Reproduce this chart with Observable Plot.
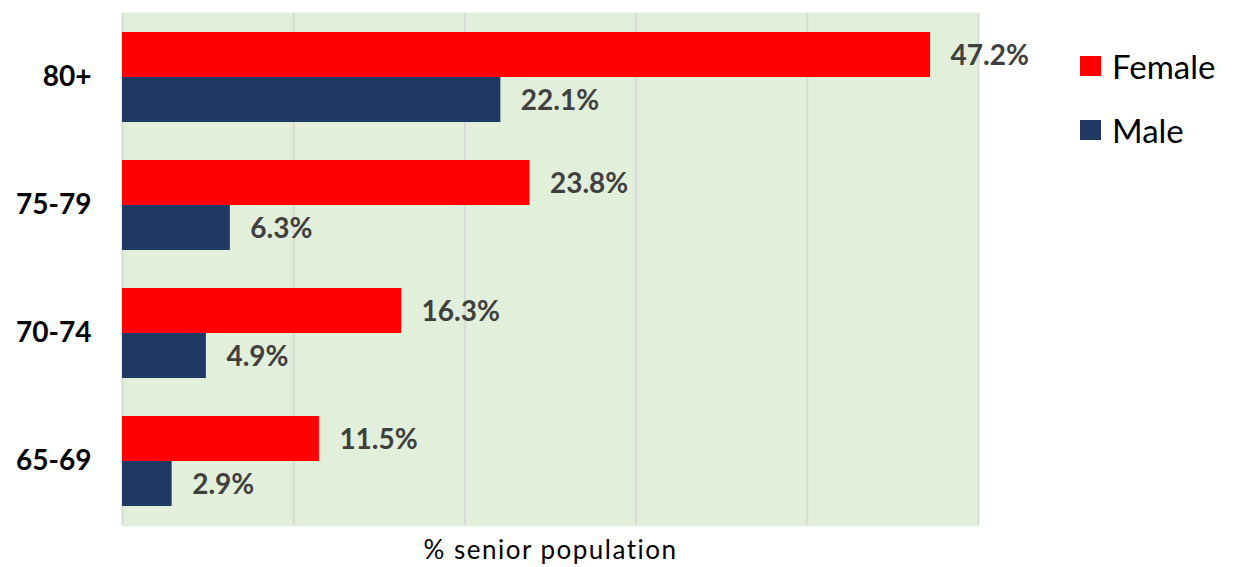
<!DOCTYPE html>
<html>
<head>
<meta charset="utf-8">
<script src="https://cdn.jsdelivr.net/npm/d3@7"></script>
<script src="https://cdn.jsdelivr.net/npm/@observablehq/plot@0.6"></script>
<style>
  html, body { margin: 0; padding: 0; background: #fff; }
  #wrap { position: relative; width: 1235px; height: 567px; font-family: Lato, "Open Sans", sans-serif; }
  #legend { position: absolute; left: 1080px; top: 45px; }
  .item { display: flex; align-items: center; height: 42px; margin-bottom: 22px; font-size: 33px; color: #000; }
  .sw { width: 21px; height: 20px; margin-right: 11px; }
  svg [aria-label="x-axis label"] text { letter-spacing: 1.5px; }
</style>
</head>
<body>
<div id="wrap"></div>
<script>
const ageGroups = ["80+", "75-79", "70-74", "65-69"];
const sexes = ["Female", "Male"];
const female = [47.2, 23.8, 16.3, 11.5];
const male = [22.1, 6.3, 4.9, 2.9];
const colors = ["#FF0000", "#203864"];
const xTicks = [0, 10, 20, 30, 40, 50];
const xLabel = "% senior population";

const data = ageGroups.flatMap((a, i) => [
  {age: a, sex: sexes[0], value: female[i]},
  {age: a, sex: sexes[1], value: male[i]}
]);

const chart = Plot.plot({
  width: 1235,
  height: 567,
  marginTop: 12,
  marginBottom: 42,
  marginLeft: 122,
  marginRight: 257,
  style: {fontFamily: "Lato, 'Open Sans', sans-serif", color: "#000", background: "#fff"},
  x: {domain: [0, 50]},
  y: {domain: sexes, paddingInner: 0, paddingOuter: 0.41, axis: null},
  fy: {domain: ageGroups, padding: 0},
  color: {domain: sexes, range: colors},
  marks: [
    Plot.frame({fill: "#E2EFDA", stroke: null, insetTop: -1, insetBottom: -1}),
    Plot.gridX(xTicks, {stroke: "#d9d9d9", strokeOpacity: 1, strokeWidth: 2}),
    Plot.barX(data, {x: "value", y: "sex", fy: "age", fill: "sex"}),
    Plot.text(data, {
      x: "value", y: "sex", fy: "age",
      text: d => d.value.toFixed(1) + "%",
      dx: 20, dy: 1, textAnchor: "start",
      fill: "#404040", fontWeight: "bold", fontSize: 28
    }),
    Plot.axisFy({anchor: "left", tickSize: 0, tickPadding: 31, fontSize: 28, fontWeight: "bold", label: null}),
    Plot.axisX({ticks: [], tickSize: 0, label: xLabel, labelAnchor: "center", labelArrow: "none", labelOffset: 33, fontSize: 26})
  ]
});

const wrap = document.getElementById("wrap");
wrap.appendChild(chart);

const legend = document.createElement("div");
legend.id = "legend";
sexes.forEach((s, i) => {
  const item = document.createElement("div");
  item.className = "item";
  const sw = document.createElement("div");
  sw.className = "sw";
  sw.style.background = colors[i];
  const t = document.createElement("span");
  t.textContent = s;
  item.appendChild(sw);
  item.appendChild(t);
  legend.appendChild(item);
});
wrap.appendChild(legend);
</script>
</body>
</html>
